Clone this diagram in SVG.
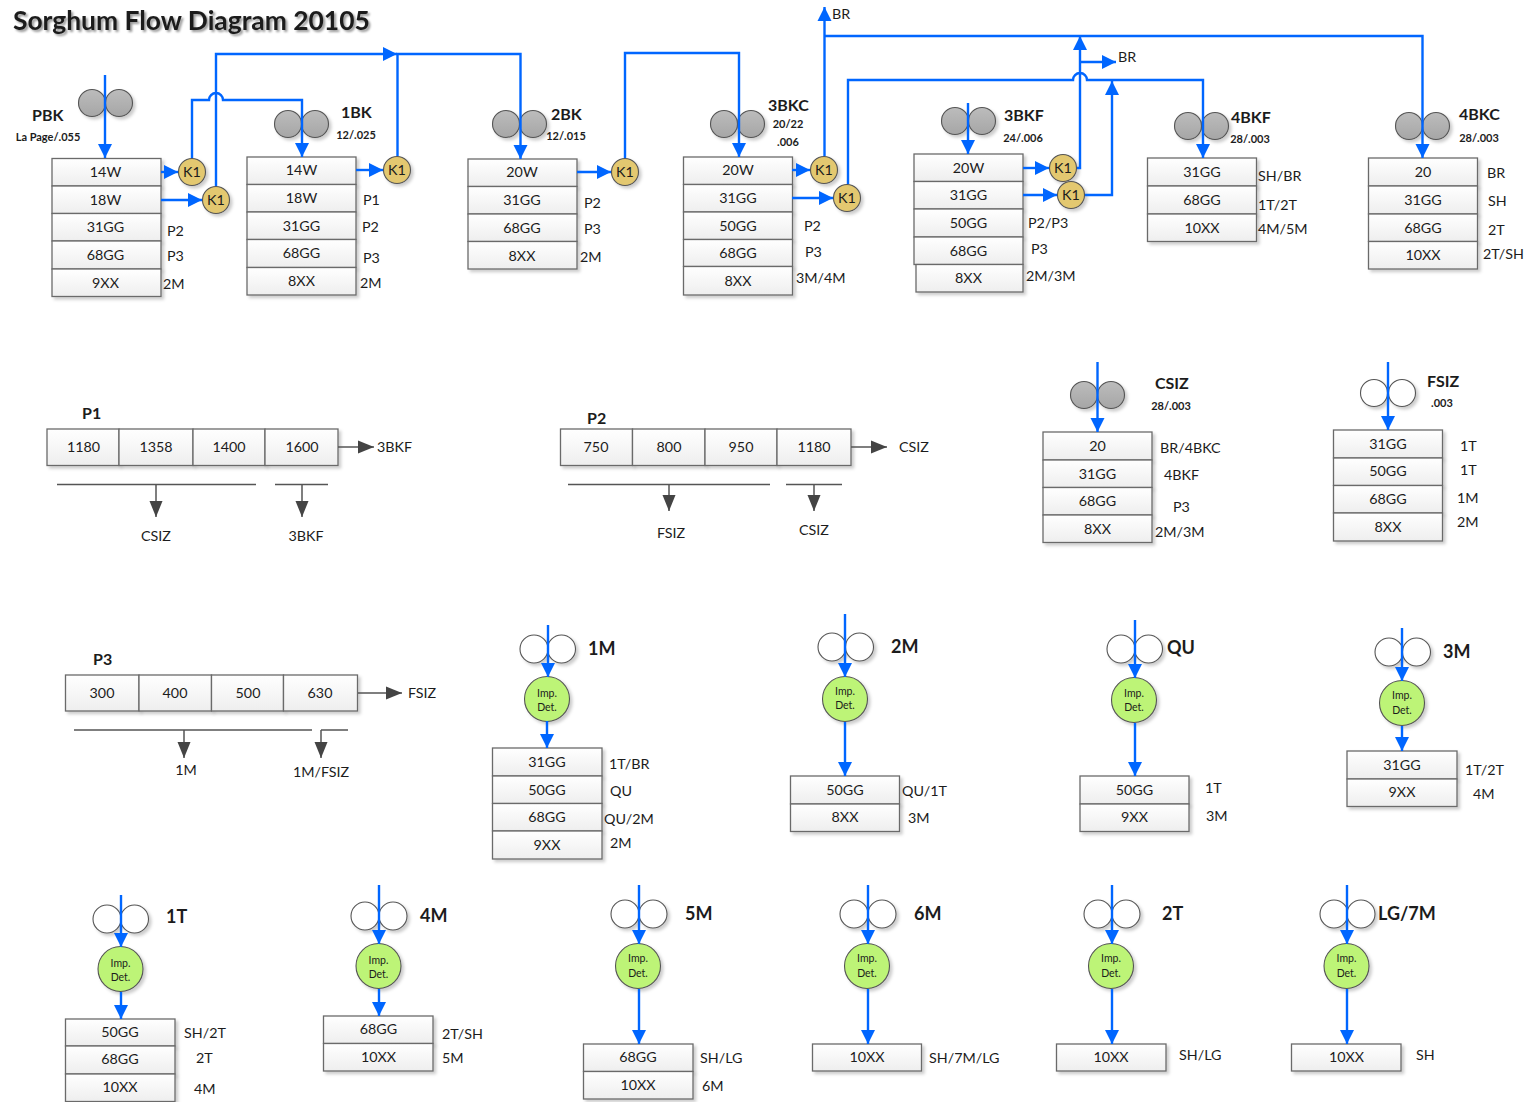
<svg xmlns="http://www.w3.org/2000/svg" width="1529" height="1102" viewBox="0 0 1529 1102">
<style>
text{font-family:"Lato","Liberation Sans",sans-serif;fill:#1c1c1c}
.t{font-size:14.3px;text-anchor:middle;dominant-baseline:central;translate:0 -0.6px}
.l{font-size:14.3px}
.h{font-size:16px;font-weight:700}
.hb{font-size:18px;font-weight:700}
.s{font-size:11px;font-weight:700;text-anchor:middle}
.i{font-size:10.5px;text-anchor:middle}
.c{fill:url(#cell);stroke:#6a6a6a;stroke-width:1.3;filter:url(#sh)}
.r{fill:url(#gray);stroke:#555;stroke-width:1.1;filter:url(#sh)}
.w{fill:#fff;stroke:#555;stroke-width:1.1;filter:url(#sh)}
.k{fill:#e3c86f;stroke:#555;stroke-width:1.1;filter:url(#sh)}
.d{fill:#bdf477;stroke:#555;stroke-width:1.1;filter:url(#sh)}
.b{fill:none;stroke:#0066ff;stroke-width:2.4}
.ba{fill:none;stroke:#0066ff;stroke-width:2.4;marker-end:url(#ab)}
.g{fill:none;stroke:#555;stroke-width:1.3}
.ga{fill:none;stroke:#555;stroke-width:1.5;marker-end:url(#ag)}
</style>
<defs>
<linearGradient id="cell" x1="0" y1="0" x2="0" y2="1"><stop offset="0" stop-color="#fff"/><stop offset="1" stop-color="#eee"/></linearGradient>
<linearGradient id="gray" x1="0" y1="0" x2="0" y2="1"><stop offset="0" stop-color="#bcbcbc"/><stop offset="1" stop-color="#a6a6a6"/></linearGradient>
<filter id="sh" x="-20%" y="-20%" width="150%" height="150%"><feDropShadow dx="2.5" dy="2.5" stdDeviation="1.5" flood-color="#000" flood-opacity=".2"/></filter>
<filter id="ts" x="-5%" y="-20%" width="110%" height="150%"><feDropShadow dx="2" dy="2" stdDeviation="1" flood-color="#000" flood-opacity=".4"/></filter>
<marker id="ab" markerUnits="userSpaceOnUse" markerWidth="15" markerHeight="15" refX="14" refY="7.500" orient="auto"><path d="M0,0.5L14,7.5L0,14.5z" fill="#0066ff"/></marker>
<marker id="ag" markerUnits="userSpaceOnUse" markerWidth="17" markerHeight="14" refX="16" refY="7" orient="auto"><path d="M0,0.5L16,7L0,13.5z" fill="#444"/></marker>
</defs>
<text id="title" x="13" y="30" style="font-size:26.4px;font-weight:700;filter:url(#ts)">Sorghum Flow Diagram 20105</text>

<g id="PBK">
<circle class="r" cx="92" cy="103" r="13.5"/><circle class="r" cx="119" cy="103" r="13.5"/>
<text class="h" x="32" y="121">PBK</text><text class="s" x="48" y="141">La Page/.055</text>
<rect class="c" x="52" y="158.5" width="109" height="27.5"/><text class="t" x="105.500" y="172">14W</text>
<rect class="c" x="52" y="186" width="109" height="27.5"/><text class="t" x="105.500" y="200">18W</text>
<rect class="c" x="52" y="213.500" width="109" height="27.500"/><text class="t" x="105.500" y="227">31GG</text>
<rect class="c" x="52" y="241" width="109" height="28"/><text class="t" x="105.500" y="255">68GG</text>
<rect class="c" x="52" y="269" width="109" height="27.500"/><text class="t" x="105.500" y="283">9XX</text>
<text class="l" x="167" y="236">P2</text><text class="l" x="167" y="261">P3</text><text class="l" x="163" y="289">2M</text>
</g>
<g id="1BK">
<circle class="r" cx="288" cy="124" r="13.5"/><circle class="r" cx="315" cy="124" r="13.5"/>
<text class="h" x="341" y="118">1BK</text><text class="s" x="356" y="139">12/.025</text>
<rect class="c" x="247" y="157" width="109" height="27.500"/><text class="t" x="301.500" y="170">14W</text>
<rect class="c" x="247" y="184.500" width="109" height="27.500"/><text class="t" x="301.500" y="198">18W</text>
<rect class="c" x="247" y="212" width="109" height="27.500"/><text class="t" x="301.500" y="226">31GG</text>
<rect class="c" x="247" y="239.500" width="109" height="28"/><text class="t" x="301.500" y="253">68GG</text>
<rect class="c" x="247" y="267.500" width="109" height="27.500"/><text class="t" x="301.500" y="281">8XX</text>
<text class="l" x="363" y="205">P1</text><text class="l" x="362" y="232">P2</text><text class="l" x="363" y="263">P3</text><text class="l" x="360" y="288">2M</text>
</g>
<g id="2BK">
<circle class="r" cx="506" cy="124" r="13.5"/><circle class="r" cx="533" cy="124" r="13.5"/>
<text class="h" x="551" y="120">2BK</text><text class="s" x="566" y="140">12/.015</text>
<rect class="c" x="468" y="159" width="109" height="27.500"/><text class="t" x="522" y="172">20W</text>
<rect class="c" x="468" y="186.500" width="109" height="27.500"/><text class="t" x="522" y="200">31GG</text>
<rect class="c" x="468" y="214" width="109" height="27.500"/><text class="t" x="522" y="228">68GG</text>
<rect class="c" x="468" y="241.500" width="109" height="27.500"/><text class="t" x="522" y="256">8XX</text>
<text class="l" x="584" y="208">P2</text><text class="l" x="584" y="234">P3</text><text class="l" x="580" y="262">2M</text>
</g>
<g id="3BKC">
<circle class="r" cx="724" cy="124" r="13.5"/><circle class="r" cx="751" cy="124" r="13.5"/>
<text class="h" x="768" y="111">3BKC</text><text class="s" x="788" y="128">20/22</text><text class="s" x="788" y="146">.006</text>
<rect class="c" x="683.500" y="157" width="109" height="27.500"/><text class="t" x="738" y="170">20W</text>
<rect class="c" x="683.500" y="184.500" width="109" height="27.500"/><text class="t" x="738" y="198">31GG</text>
<rect class="c" x="683.500" y="212" width="109" height="27.500"/><text class="t" x="738" y="226">50GG</text>
<rect class="c" x="683.500" y="239.500" width="109" height="27"/><text class="t" x="738" y="253">68GG</text>
<rect class="c" x="683.500" y="266.500" width="109" height="28.500"/><text class="t" x="738" y="281">8XX</text>
<text class="l" x="804" y="231">P2</text><text class="l" x="805" y="257">P3</text><text class="l" x="796" y="283">3M/4M</text>
</g>
<g id="3BKF">
<circle class="r" cx="955" cy="121" r="13.5"/><circle class="r" cx="982" cy="121" r="13.5"/>
<text class="h" x="1004" y="121">3BKF</text><text class="s" x="1023" y="142">24/.006</text>
<rect class="c" x="914" y="154" width="109" height="27.500"/><text class="t" x="968.500" y="168">20W</text>
<rect class="c" x="914" y="181.500" width="109" height="27.500"/><text class="t" x="968.500" y="195">31GG</text>
<rect class="c" x="914" y="209" width="109" height="28"/><text class="t" x="968.500" y="223">50GG</text>
<rect class="c" x="914" y="237" width="109" height="27.500"/><text class="t" x="968.500" y="251">68GG</text>
<rect class="c" x="916" y="264.500" width="107" height="27.500"/><text class="t" x="968.500" y="278">8XX</text>
<text class="l" x="1028" y="228">P2/P3</text><text class="l" x="1031" y="254">P3</text><text class="l" x="1026" y="281">2M/3M</text>
</g>
<g id="4BKF">
<circle class="r" cx="1188" cy="126" r="13.5"/><circle class="r" cx="1215" cy="126" r="13.5"/>
<text class="h" x="1231" y="123">4BKF</text><text class="s" x="1250" y="143">28/.003</text>
<rect class="c" x="1147.500" y="158" width="109" height="28"/><text class="t" x="1202" y="172">31GG</text>
<rect class="c" x="1147.500" y="186" width="109" height="28"/><text class="t" x="1202" y="200">68GG</text>
<rect class="c" x="1147.500" y="214" width="109" height="27.500"/><text class="t" x="1202" y="228">10XX</text>
<text class="l" x="1258" y="181">SH/BR</text><text class="l" x="1258" y="210">1T/2T</text><text class="l" x="1258" y="234">4M/5M</text>
</g>
<g id="4BKC">
<circle class="r" cx="1409" cy="126" r="13.5"/><circle class="r" cx="1436" cy="126" r="13.5"/>
<text class="h" x="1459" y="120">4BKC</text><text class="s" x="1479" y="142">28/.003</text>
<rect class="c" x="1368.500" y="158" width="109" height="28"/><text class="t" x="1423" y="172">20</text>
<rect class="c" x="1368.500" y="186" width="109" height="28"/><text class="t" x="1423" y="200">31GG</text>
<rect class="c" x="1368.500" y="214" width="109" height="27.500"/><text class="t" x="1423" y="228">68GG</text>
<rect class="c" x="1368.500" y="241.500" width="109" height="27.500"/><text class="t" x="1423" y="255">10XX</text>
<text class="l" x="1487" y="178">BR</text><text class="l" x="1488" y="206">SH</text><text class="l" x="1488" y="235">2T</text><text class="l" x="1483" y="259">2T/SH</text>
</g>

<g id="K1a"><circle class="k" cx="192" cy="172" r="13.5"/><text class="t" x="192" y="172">K1</text></g>
<g id="K1b"><circle class="k" cx="216" cy="200" r="13.5"/><text class="t" x="216" y="200">K1</text></g>
<g id="K1c"><circle class="k" cx="397" cy="170" r="13.5"/><text class="t" x="397" y="170">K1</text></g>
<g id="K1d"><circle class="k" cx="625" cy="172" r="13.5"/><text class="t" x="625" y="172">K1</text></g>
<g id="K1e"><circle class="k" cx="824" cy="170" r="13.5"/><text class="t" x="824" y="170">K1</text></g>
<g id="K1f"><circle class="k" cx="847" cy="198" r="13.5"/><text class="t" x="847" y="198">K1</text></g>
<g id="K1g"><circle class="k" cx="1063" cy="168" r="13.5"/><text class="t" x="1063" y="168">K1</text></g>
<g id="K1h"><circle class="k" cx="1071" cy="195" r="13.5"/><text class="t" x="1071" y="195">K1</text></g>

<g id="P1">
<text class="h" x="82" y="419">P1</text>
<rect class="c" x="47" y="429" width="72" height="36.500"/><text class="t" x="83.500" y="447">1180</text>
<rect class="c" x="119" y="429" width="74" height="36.500"/><text class="t" x="156" y="447">1358</text>
<rect class="c" x="193" y="429" width="72" height="36.500"/><text class="t" x="229" y="447">1400</text>
<rect class="c" x="265" y="429" width="73" height="36.500"/><text class="t" x="302" y="447">1600</text>
<text class="l" x="377" y="452">3BKF</text><text class="t" x="156" y="536">CSIZ</text><text class="t" x="306" y="536">3BKF</text>
</g>
<g id="P2">
<text class="h" x="587" y="424">P2</text>
<rect class="c" x="560.500" y="429" width="72" height="36.500"/><text class="t" x="596" y="447">750</text>
<rect class="c" x="632.500" y="429" width="72.500" height="36.500"/><text class="t" x="669" y="447">800</text>
<rect class="c" x="705" y="429" width="72" height="36.500"/><text class="t" x="741" y="447">950</text>
<rect class="c" x="777" y="429" width="74" height="36.500"/><text class="t" x="814" y="447">1180</text>
<text class="l" x="899" y="452">CSIZ</text><text class="t" x="671" y="533">FSIZ</text><text class="t" x="814" y="530">CSIZ</text>
</g>
<g id="P3">
<text class="h" x="93" y="665">P3</text>
<rect class="c" x="65.500" y="675" width="73.500" height="36"/><text class="t" x="102" y="693">300</text>
<rect class="c" x="139" y="675" width="72.500" height="36"/><text class="t" x="175" y="693">400</text>
<rect class="c" x="211.500" y="675" width="72" height="36"/><text class="t" x="248" y="693">500</text>
<rect class="c" x="283.500" y="675" width="74" height="36"/><text class="t" x="320" y="693">630</text>
<text class="l" x="408" y="698">FSIZ</text><text class="t" x="186" y="770">1M</text><text class="t" x="321" y="772">1M/FSIZ</text>
</g>
<g id="CSIZ">
<circle class="r" cx="1084" cy="395" r="13.5"/><circle class="r" cx="1111" cy="395" r="13.5"/>
<text class="h" x="1155" y="389">CSIZ</text><text class="s" x="1171" y="410">28/.003</text>
<rect class="c" x="1043" y="432" width="109" height="28"/><text class="t" x="1097.500" y="446">20</text>
<rect class="c" x="1043" y="460" width="109" height="27.500"/><text class="t" x="1097.500" y="474">31GG</text>
<rect class="c" x="1043" y="487.500" width="109" height="27.500"/><text class="t" x="1097.500" y="501">68GG</text>
<rect class="c" x="1043" y="515" width="109" height="27.500"/><text class="t" x="1097.500" y="529">8XX</text>
<text class="l" x="1160" y="453">BR/4BKC</text><text class="l" x="1164" y="480">4BKF</text><text class="l" x="1173" y="512">P3</text><text class="l" x="1155" y="537">2M/3M</text>
</g>
<g id="FSIZ">
<circle class="w" cx="1374" cy="393" r="13.5"/><circle class="w" cx="1402" cy="393" r="13.5"/>
<text class="h" x="1427" y="387">FSIZ</text><text class="s" x="1442" y="407">.003</text>
<rect class="c" x="1333.500" y="430" width="109" height="28"/><text class="t" x="1388" y="444">31GG</text>
<rect class="c" x="1333.500" y="458" width="109" height="27.500"/><text class="t" x="1388" y="471">50GG</text>
<rect class="c" x="1333.500" y="485.500" width="109" height="27.500"/><text class="t" x="1388" y="499">68GG</text>
<rect class="c" x="1333.500" y="513" width="109" height="28"/><text class="t" x="1388" y="527">8XX</text>
<text class="l" x="1460" y="451">1T</text><text class="l" x="1460" y="475">1T</text><text class="l" x="1457" y="503">1M</text><text class="l" x="1457" y="527">2M</text>
</g>
<g id="M1">
<circle class="w" cx="534" cy="649" r="14"/><circle class="w" cx="561.500" cy="649" r="14"/>
<text class="hb" x="588" y="655">1M</text>
<circle class="d" cx="547" cy="699" r="22.500"/><text class="i" x="547" y="697">Imp.</text><text class="i" x="547" y="711">Det.</text>
<rect class="c" x="492.500" y="748" width="109.500" height="28"/><text class="t" x="547" y="762">31GG</text>
<rect class="c" x="492.500" y="776" width="109.500" height="27.500"/><text class="t" x="547" y="790">50GG</text>
<rect class="c" x="492.500" y="803.500" width="109.500" height="27.500"/><text class="t" x="547" y="817">68GG</text>
<rect class="c" x="492.500" y="831" width="109.500" height="28"/><text class="t" x="547" y="845">9XX</text>
<text class="l" x="609" y="769">1T/BR</text><text class="l" x="610" y="796">QU</text><text class="l" x="604" y="824">QU/2M</text><text class="l" x="610" y="848">2M</text>
</g>
<g id="M2">
<circle class="w" cx="832" cy="647" r="14"/><circle class="w" cx="859.500" cy="647" r="14"/>
<text class="hb" x="891" y="653">2M</text>
<circle class="d" cx="845" cy="699" r="22.500"/><text class="i" x="845" y="695">Imp.</text><text class="i" x="845" y="709">Det.</text>
<rect class="c" x="790.500" y="776" width="109" height="28"/><text class="t" x="845" y="790">50GG</text>
<rect class="c" x="790.500" y="804" width="109" height="27.500"/><text class="t" x="845" y="817">8XX</text>
<text class="l" x="902" y="796">QU/1T</text><text class="l" x="908" y="823">3M</text>
</g>
<g id="QU">
<circle class="w" cx="1121" cy="649" r="14"/><circle class="w" cx="1148.500" cy="649" r="14"/>
<text class="hb" x="1167" y="654">QU</text>
<circle class="d" cx="1134" cy="700" r="22.500"/><text class="i" x="1134" y="697">Imp.</text><text class="i" x="1134" y="711">Det.</text>
<rect class="c" x="1080" y="776" width="109" height="28"/><text class="t" x="1134.500" y="790">50GG</text>
<rect class="c" x="1080" y="804" width="109" height="27.500"/><text class="t" x="1134.500" y="817">9XX</text>
<text class="l" x="1205" y="793">1T</text><text class="l" x="1206" y="821">3M</text>
</g>
<g id="M3">
<circle class="w" cx="1389" cy="652" r="14"/><circle class="w" cx="1416.500" cy="652" r="14"/>
<text class="hb" x="1443" y="658">3M</text>
<circle class="d" cx="1402" cy="703" r="22.500"/><text class="i" x="1402" y="699">Imp.</text><text class="i" x="1402" y="714">Det.</text>
<rect class="c" x="1347" y="751" width="110" height="28"/><text class="t" x="1402" y="765">31GG</text>
<rect class="c" x="1347" y="779" width="110" height="27.500"/><text class="t" x="1402" y="792">9XX</text>
<text class="l" x="1465" y="775">1T/2T</text><text class="l" x="1473" y="799">4M</text>
</g>
<g id="T1">
<circle class="w" cx="107" cy="919" r="14"/><circle class="w" cx="134.500" cy="919" r="14"/>
<text class="hb" x="166" y="923">1T</text>
<circle class="d" cx="120.500" cy="969" r="22.500"/><text class="i" x="120.500" y="967">Imp.</text><text class="i" x="120.500" y="981">Det.</text>
<rect class="c" x="65.500" y="1019" width="109.500" height="27"/><text class="t" x="120" y="1032">50GG</text>
<rect class="c" x="65.500" y="1046" width="109.500" height="28"/><text class="t" x="120" y="1059">68GG</text>
<rect class="c" x="65.500" y="1074" width="109.500" height="27.500"/><text class="t" x="120" y="1087">10XX</text>
<text class="l" x="184" y="1038">SH/2T</text><text class="l" x="196" y="1063">2T</text><text class="l" x="194" y="1094">4M</text>
</g>
<g id="M4">
<circle class="w" cx="365" cy="916" r="14"/><circle class="w" cx="393" cy="916" r="14"/>
<text class="hb" x="420" y="922">4M</text>
<circle class="d" cx="378.500" cy="966" r="22.500"/><text class="i" x="378.500" y="964">Imp.</text><text class="i" x="378.500" y="978">Det.</text>
<rect class="c" x="323.500" y="1016" width="109.500" height="27.500"/><text class="t" x="378.500" y="1029">68GG</text>
<rect class="c" x="323.500" y="1043.500" width="109.500" height="27.500"/><text class="t" x="378.500" y="1057">10XX</text>
<text class="l" x="442" y="1039">2T/SH</text><text class="l" x="442" y="1063">5M</text>
</g>
<g id="M5">
<circle class="w" cx="625" cy="914" r="14"/><circle class="w" cx="653" cy="914" r="14"/>
<text class="hb" x="685" y="920">5M</text>
<circle class="d" cx="638" cy="966" r="22.500"/><text class="i" x="638" y="962">Imp.</text><text class="i" x="638" y="977">Det.</text>
<rect class="c" x="583.500" y="1044" width="109.500" height="27.500"/><text class="t" x="638" y="1057">68GG</text>
<rect class="c" x="583.500" y="1071.500" width="109.500" height="27.500"/><text class="t" x="638" y="1085">10XX</text>
<text class="l" x="700" y="1063">SH/LG</text><text class="l" x="702" y="1091">6M</text>
</g>
<g id="M6">
<circle class="w" cx="854" cy="914" r="14"/><circle class="w" cx="882" cy="914" r="14"/>
<text class="hb" x="914" y="920">6M</text>
<circle class="d" cx="867" cy="966" r="22.500"/><text class="i" x="867" y="962">Imp.</text><text class="i" x="867" y="977">Det.</text>
<rect class="c" x="812.500" y="1044" width="109" height="27"/><text class="t" x="867" y="1057">10XX</text>
<text class="l" x="929" y="1063">SH/7M/LG</text>
</g>
<g id="T2">
<circle class="w" cx="1098" cy="914" r="14"/><circle class="w" cx="1126" cy="914" r="14"/>
<text class="hb" x="1162" y="920">2T</text>
<circle class="d" cx="1111" cy="966" r="22.500"/><text class="i" x="1111" y="962">Imp.</text><text class="i" x="1111" y="977">Det.</text>
<rect class="c" x="1056.500" y="1044" width="109.500" height="27"/><text class="t" x="1111" y="1057">10XX</text>
<text class="l" x="1179" y="1060">SH/LG</text>
</g>
<g id="LG7M">
<circle class="w" cx="1334" cy="914" r="14"/><circle class="w" cx="1361" cy="914" r="14"/>
<text class="hb" x="1378" y="920">LG/7M</text>
<circle class="d" cx="1346.500" cy="966" r="22.500"/><text class="i" x="1346.500" y="962">Imp.</text><text class="i" x="1346.500" y="977">Det.</text>
<rect class="c" x="1291.500" y="1044" width="109.500" height="27"/><text class="t" x="1346.500" y="1057">10XX</text>
<text class="l" x="1416" y="1060">SH</text>
</g>

<g id="connectors">
<path class="ba" d="M105,75V158"/>
<path class="ba" d="M161,172H178"/>
<path class="ba" d="M161,200H202"/>
<path class="ba" d="M192,158V100H209A7,7 0 0 1 223,100H302V157"/>
<path class="ba" d="M216,186V54H397"/>
<path class="ba" d="M397.500,156V54H520.500V159"/>
<path class="ba" d="M356,170H383"/>
<path class="ba" d="M577,172H611"/>
<path class="ba" d="M625,158V53H739V157"/>
<path class="ba" d="M792,170H810"/>
<path class="ba" d="M792,198H833"/>
<path class="ba" d="M824.500,156V7"/>
<path class="ba" d="M825,36H1422.500V158"/>
<path class="ba" d="M848,184V80H1073A7,7 0 0 1 1087,80H1203V158"/>
<path class="ba" d="M968,103V154"/>
<path class="ba" d="M1023,168H1049"/>
<path class="ba" d="M1023,195H1057"/>
<path class="ba" d="M1077,168H1080V36"/>
<path class="ba" d="M1080,62H1116"/>
<path class="ba" d="M1085,195H1112V81"/>
<path class="ba" d="M1097.500,362V432"/>
<path class="ba" d="M1388,362V430"/>
<path class="ba" d="M548,625V677"/><path class="ba" d="M547,721V748"/>
<path class="ba" d="M845,614V677"/><path class="ba" d="M845,722V776"/>
<path class="ba" d="M1135,620V678"/><path class="ba" d="M1135,723V776"/>
<path class="ba" d="M1402,628V681"/><path class="ba" d="M1402,726V751"/>
<path class="ba" d="M121,895V947"/><path class="ba" d="M121,992V1019"/>
<path class="ba" d="M379,885V944"/><path class="ba" d="M379,989V1016"/>
<path class="ba" d="M639,885V944"/><path class="ba" d="M639,989V1044"/>
<path class="ba" d="M868,885V944"/><path class="ba" d="M868,989V1044"/>
<path class="ba" d="M1112,885V944"/><path class="ba" d="M1112,989V1044"/>
<path class="ba" d="M1347,885V944"/><path class="ba" d="M1347,989V1044"/>
<path class="ga" d="M338,447H374"/>
<path class="g" d="M57,484.500H256M275,484.500H328"/>
<path class="ga" d="M156,484.500V517"/><path class="ga" d="M302,484.500V517"/>
<path class="ga" d="M851,447H887"/>
<path class="g" d="M568,484.500H770M786,484.500H842"/>
<path class="ga" d="M669,484.500V511"/><path class="ga" d="M814,484.500V511"/>
<path class="ga" d="M358,693H402"/>
<path class="g" d="M74,730H312M321,730H348"/>
<path class="ga" d="M184,730V758"/><path class="ga" d="M321,730V758"/>
</g>
<text id="br1" class="l" x="832" y="19">BR</text>
<text id="br2" class="l" x="1118" y="62">BR</text>
</svg>
